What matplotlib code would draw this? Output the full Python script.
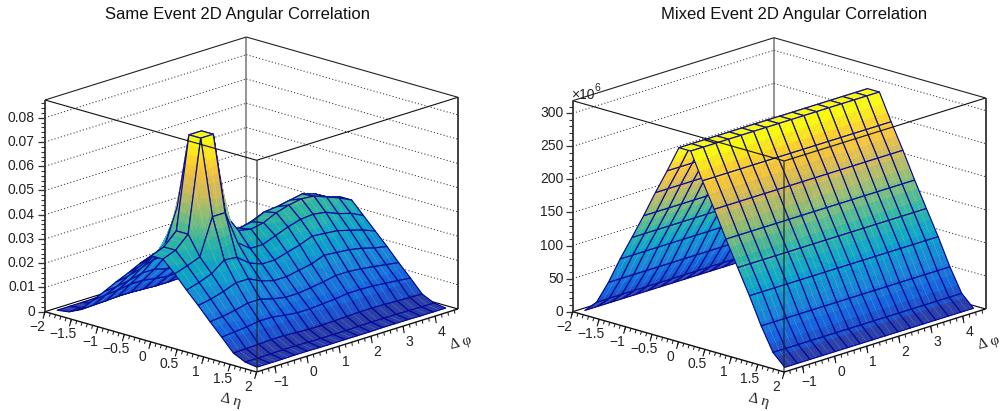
import numpy as np
import matplotlib
matplotlib.use('Agg')
import matplotlib.pyplot as plt
from matplotlib.collections import PolyCollection
from matplotlib.colors import LinearSegmentedColormap

plt.rcParams['font.family'] = ['Liberation Sans', 'DejaVu Sans']

# bin centres of the 2D histograms
eta_centers = [-1.889, -1.667, -1.444, -1.222, -1.0, -0.778, -0.556, -0.333, -0.111,
               0.111, 0.333, 0.556, 0.778, 1.0, 1.222, 1.444, 1.667, 1.889]
phi_centers = [-1.374, -0.982, -0.589, -0.196, 0.196, 0.589, 0.982, 1.374,
               1.767, 2.160, 2.553, 2.945, 3.338, 3.731, 4.123, 4.516]

# same event, one row per eta bin, one column per phi bin
same_event = [
    [.0005, .0005, .0005, .0006, .0006, .0005, .0005, .0005, .0005, .0005, .0006, .0006, .0006, .0005, .0005, .0005],
    [.0012, .0012, .0013, .0014, .0014, .0013, .0012, .0012, .0012, .0013, .0014, .0014, .0014, .0013, .0012, .0012],
    [.0035, .0037, .0039, .0042, .0042, .0039, .0036, .0036, .0038, .0040, .0042, .0042, .0041, .0039, .0037, .0035],
    [.0087, .0092, .0097, .0105, .0105, .0096, .0090, .0090, .0094, .0098, .0105, .0105, .0103, .0098, .0093, .0087],
    [.0137, .0142, .0152, .0165, .0165, .0150, .0140, .0140, .0147, .0155, .0165, .0165, .0160, .0153, .0145, .0137],
    [.0190, .0200, .0215, .0235, .0235, .0210, .0195, .0195, .0205, .0215, .0230, .0230, .0225, .0215, .0200, .0190],
    [.0240, .0255, .0275, .0315, .0310, .0270, .0250, .0250, .0260, .0270, .0285, .0290, .0285, .0270, .0255, .0240],
    [.0293, .0310, .0330, .0480, .0480, .0340, .0300, .0300, .0310, .0325, .0340, .0350, .0350, .0330, .0310, .0290],
    [.0340, .0360, .0410, .0790, .0790, .0440, .0360, .0340, .0350, .0375, .0380, .0390, .0400, .0384, .0355, .0340],
    [.0340, .0360, .0410, .0790, .0790, .0440, .0360, .0350, .0360, .0385, .0400, .0410, .0405, .0385, .0365, .0340],
    [.0293, .0310, .0330, .0480, .0480, .0340, .0300, .0300, .0320, .0340, .0355, .0360, .0352, .0330, .0315, .0290],
    [.0240, .0255, .0275, .0315, .0310, .0270, .0250, .0250, .0265, .0280, .0300, .0295, .0290, .0275, .0260, .0240],
    [.0190, .0200, .0215, .0235, .0235, .0210, .0195, .0195, .0205, .0215, .0235, .0230, .0225, .0215, .0200, .0190],
    [.0137, .0142, .0152, .0165, .0165, .0150, .0140, .0140, .0147, .0155, .0165, .0165, .0160, .0153, .0145, .0137],
    [.0087, .0092, .0097, .0105, .0105, .0096, .0090, .0090, .0094, .0098, .0105, .0105, .0103, .0098, .0093, .0087],
    [.0035, .0037, .0039, .0042, .0042, .0039, .0036, .0036, .0038, .0040, .0042, .0042, .0041, .0039, .0037, .0035],
    [.0012, .0012, .0013, .0014, .0014, .0013, .0012, .0012, .0012, .0013, .0014, .0014, .0014, .0013, .0012, .0012],
    [.0005, .0005, .0005, .0006, .0006, .0005, .0005, .0005, .0005, .0005, .0006, .0006, .0006, .0005, .0005, .0005],
]

# mixed event, in units of 10^6
mixed_event = [
    [1.5] * 16, [19] * 16, [54] * 16, [94.5] * 16, [132] * 16, [170] * 16, [210] * 16, [248] * 16, [288] * 16,
    [288] * 16, [248] * 16, [210] * 16, [170] * 16, [132] * 16, [94.5] * 16, [54] * 16, [19] * 16, [1.5] * 16,
]

same_ticks = [0, 0.01, 0.02, 0.03, 0.04, 0.05, 0.06, 0.07, 0.08]
same_labels = ['0', '0.01', '0.02', '0.03', '0.04', '0.05', '0.06', '0.07', '0.08']
mixed_ticks = [0, 50, 100, 150, 200, 250, 300]
mixed_labels = ['0', '50', '100', '150', '200', '250', '300']
eta_ticks = [-2, -1.5, -1, -0.5, 0, 0.5, 1, 1.5, 2]
eta_labels = ['\u22122', '\u22121.5', '\u22121', '\u22120.5', '0', '0.5', '1', '1.5', '2']
phi_ticks = [-1, 0, 1, 2, 3, 4]
phi_labels = ['\u22121', '0', '1', '2', '3', '4']

# ROOT kBird palette
bird = LinearSegmentedColormap.from_list('bird', [
    (0.2082, 0.1664, 0.5293), (0.0592, 0.3599, 0.8684), (0.0780, 0.5041, 0.8385),
    (0.0232, 0.6419, 0.7914), (0.1802, 0.7178, 0.6425), (0.5301, 0.7492, 0.4662),
    (0.8186, 0.7328, 0.3499), (0.9956, 0.7862, 0.1968), (0.9764, 0.9832, 0.0539)])

PHI_MIN = -np.pi / 2
PHI_RANGE = 2 * np.pi
ETA_VEC = (52.9, 15.07)      # pixels per unit of eta
PHI_VEC = (201.3, -63.0)     # pixels over the whole phi range
N_SUB = 10
N_LEVELS = 20

fig = plt.figure(figsize=(10.02, 4.11), dpi=100)
ax = fig.add_axes([0, 0, 1, 1])
ax.set_xlim(0, 1002)
ax.set_ylim(411, 0)
ax.axis('off')


def draw_panel(x0, y0, z_top, height, table, ticks, labels, minor_step, title, title_x, label_right):
    scale = height / z_top

    def proj(eta, phi, z=0.0):
        u = (np.asarray(eta) + 2)
        v = (np.asarray(phi) - PHI_MIN) / PHI_RANGE
        return (x0 + u * ETA_VEC[0] + v * PHI_VEC[0],
                y0 + u * ETA_VEC[1] + v * PHI_VEC[1] - np.asarray(z) * scale)

    def seg(a, b, **kw):
        ax.plot([a[0], b[0]], [a[1], b[1]], solid_capstyle='butt', **kw)

    eta_lo, eta_hi = -2, 2
    phi_lo, phi_hi = PHI_MIN, PHI_MIN + PHI_RANGE

    # back walls, floor edges and z grid
    seg(proj(eta_lo, phi_lo), proj(eta_lo, phi_hi), color='black', lw=0.8, zorder=1)
    seg(proj(eta_lo, phi_hi), proj(eta_hi, phi_hi), color='black', lw=0.8, zorder=1)
    seg(proj(eta_lo, phi_hi), proj(eta_lo, phi_hi, z_top), color='#777777', lw=1.1, zorder=1)
    seg(proj(eta_lo, phi_lo, z_top), proj(eta_lo, phi_hi, z_top), color='#222222', lw=0.8, zorder=1)
    seg(proj(eta_lo, phi_hi, z_top), proj(eta_hi, phi_hi, z_top), color='#222222', lw=0.8, zorder=1)
    for t in ticks[1:]:
        for a, b in [((eta_lo, phi_lo), (eta_lo, phi_hi)), ((eta_lo, phi_hi), (eta_hi, phi_hi))]:
            p, q = proj(*a, t), proj(*b, t)
            ax.plot([p[0], q[0]], [p[1], q[1]], color='#333333', lw=0.7,
                    linestyle=(0, (1.2, 2.2)), zorder=1)

    # surface, painted back to front
    z = np.array(table)
    zmax = z.max()
    verts, faces, edges, widths = [], [], [], []
    grid = np.linspace(0, 1, N_SUB + 1)
    for i in range(len(eta_centers) - 1):
        for j in range(len(phi_centers) - 2, -1, -1):
            e0, e1 = eta_centers[i], eta_centers[i + 1]
            p0, p1 = phi_centers[j], phi_centers[j + 1]
            corner = z[i:i + 2, j:j + 2]
            for a in range(N_SUB):
                for b in range(N_SUB - 1, -1, -1):
                    s = grid[[a, a + 1, a + 1, a]]
                    t = grid[[b, b, b + 1, b + 1]]
                    zz = ((1 - s) * (1 - t) * corner[0, 0] + s * (1 - t) * corner[1, 0]
                          + (1 - s) * t * corner[0, 1] + s * t * corner[1, 1])
                    px, py = proj(e0 + s * (e1 - e0), p0 + t * (p1 - p0), zz)
                    level = min(int(zz.mean() / zmax * N_LEVELS), N_LEVELS - 1)
                    col = bird((level + 1) / N_LEVELS)
                    verts.append(np.column_stack([px, py]))
                    faces.append(col)
                    edges.append(col)
                    widths.append(0.35)
            # faint seam across the cell
            pm = 0.5 * (p0 + p1)
            px, py = proj(np.array([e0, e1]), np.array([pm, pm]),
                          np.array([corner[0].mean(), corner[1].mean()]))
            verts.append(np.column_stack([px, py]))
            faces.append((0, 0, 0, 0))
            edges.append((1, 1, 1, 0.22))
            widths.append(0.4)
            # cell outline
            px, py = proj(np.array([e0, e1, e1, e0]), np.array([p0, p0, p1, p1]),
                          np.array([corner[0, 0], corner[1, 0], corner[1, 1], corner[0, 1]]))
            verts.append(np.column_stack([px, py]))
            faces.append((0, 0, 0, 0))
            edges.append((0.03, 0.03, 0.58, 1))
            widths.append(0.85)
    ax.add_collection(PolyCollection(verts, facecolors=faces, edgecolors=edges,
                                     linewidths=widths, zorder=2))

    # front frame, on top of the surface
    seg(proj(eta_lo, phi_lo, z_top), proj(eta_hi, phi_lo, z_top), color='#111111', lw=0.8, zorder=3)
    seg(proj(eta_hi, phi_lo, z_top), proj(eta_hi, phi_hi, z_top), color='#111111', lw=0.8, zorder=3)
    seg(proj(eta_hi, phi_lo), proj(eta_hi, phi_lo, z_top), color='#222222', lw=1.1, alpha=0.75, zorder=3)
    seg(proj(eta_hi, phi_hi), proj(eta_hi, phi_hi, z_top), color='#333333', lw=1.3, zorder=3)
    seg(proj(eta_lo, phi_lo), proj(eta_hi, phi_lo), color='#111111', lw=1.0, zorder=3)
    seg(proj(eta_hi, phi_lo), proj(eta_hi, phi_hi), color='#111111', lw=1.0, zorder=3)
    seg(proj(eta_lo, phi_lo), proj(eta_lo, phi_lo, z_top), color='#333333', lw=1.3, zorder=3)

    # z axis
    for t in np.arange(0, z_top, minor_step):
        p = proj(eta_lo, phi_lo, t)
        seg((p[0] - 3.5, p[1]), p, color='#333333', lw=0.8, zorder=3)
    for t, lab in zip(ticks, labels):
        p = proj(eta_lo, phi_lo, t)
        seg((p[0] - 7, p[1]), p, color='#333333', lw=0.9, zorder=3)
        ax.text(label_right, p[1], lab, ha='right', va='center', fontsize=10, color='#222222')

    # eta axis
    for t in np.arange(-2, 2.01, 0.1):
        p = proj(t, phi_lo)
        seg(p, (p[0] - 1, p[1] + 3.5), color='#111111', lw=0.7, zorder=3)
    for t, lab in zip(eta_ticks, eta_labels):
        p = proj(t, phi_lo)
        seg(p, (p[0] - 2, p[1] + 7), color='#111111', lw=0.8, zorder=3)
        ax.text(p[0] - 8, p[1] + 15, lab, ha='center', va='center', fontsize=10, color='#222222')

    # phi axis
    for t in np.arange(-1.4, 4.61, 0.2):
        p = proj(eta_hi, t)
        seg(p, (p[0] + 0.6, p[1] + 3.5), color='#111111', lw=0.7, zorder=3)
    for t, lab in zip(phi_ticks, phi_labels):
        p = proj(eta_hi, t)
        seg(p, (p[0] + 1.2, p[1] + 7), color='#111111', lw=0.8, zorder=3)
        ax.text(p[0] + 6.5, p[1] + 16, lab, ha='center', va='center', fontsize=10, color='#222222')

    ax.text(x0 + 186, 400.5, '\u0394 \u03b7', family=['Liberation Serif', 'DejaVu Sans'], fontsize=11,
            rotation=-15, ha='center', va='center', color='#222222', rotation_mode='anchor')
    ax.text(x0 + 416, 343, '\u0394 \u03c6', family=['Liberation Serif', 'DejaVu Sans'], fontsize=11,
            rotation=15, ha='center', va='center', color='#222222', rotation_mode='anchor')
    ax.text(title_x, 15, title, ha='center', va='center', fontsize=12, color='#111111')


draw_panel(45, 311.7, 0.0873, 211.7, same_event, same_ticks, same_labels, 0.002,
           'Same Event 2D Angular Correlation', 237.5, 35)
draw_panel(572.7, 311.7, 319, 211, mixed_event, mixed_ticks, mixed_labels, 10,
           'Mixed Event 2D Angular Correlation', 794, 563.5)

ax.text(571.5, 95, '\u00d710', fontsize=10, va='center', ha='left', color='#222222', zorder=4)
ax.text(595, 88, '6', fontsize=7.5, va='center', ha='left', color='#222222', zorder=4)

fig.savefig('out.png', dpi=100)
